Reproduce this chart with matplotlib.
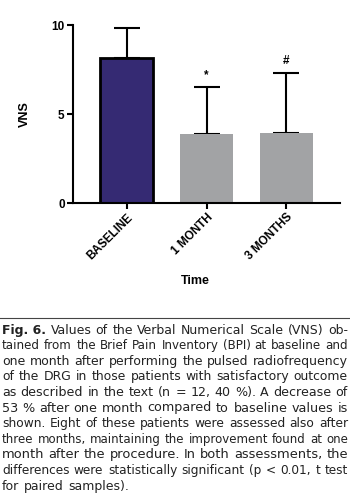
import matplotlib
matplotlib.use("Agg")
import matplotlib.pyplot as plt

categories = ["BASELINE", "1 MONTH", "3 MONTHS"]
means = [8.15, 3.9, 3.93]
sd_upper = [1.68, 2.6, 3.37]
marks = ["", "*", "#"]
bar_colors = ["#352a73", "#a2a3a5", "#a2a3a5"]
y_ticks = [0, 5, 10]

caption_lines = [
    "Values of the Verbal Numerical Scale (VNS) ob-",
    "tained from the Brief Pain Inventory (BPI) at baseline and",
    "one month after performing the pulsed radiofrequency",
    "of the DRG in those patients with satisfactory outcome",
    "as described in the text (n = 12, 40 %). A decrease of",
    "53 % after one month compared to baseline values is",
    "shown. Eight of these patients were assessed also after",
    "three months, maintaining the improvement found at one",
    "month after the procedure. In both assessments, the",
    "differences were statistically significant (p < 0.01, t test",
    "for paired samples).",
]

plt.rcParams['font.family'] = ['Liberation Sans', 'DejaVu Sans']
W, H = 350, 494
fig = plt.figure(figsize=(3.5, 4.94), dpi=100)
ax = fig.add_axes([73 / W, 1 - 203 / H, (340 - 73) / W, (203 - 25) / H])

x = list(range(len(categories)))
edges = ["black", "none", "none"]
lws = [2.0, 0, 0]
for xi, m, c, e, lw in zip(x, means, bar_colors, edges, lws):
    ax.bar(xi, m, width=0.66, color=c, edgecolor=e, linewidth=lw, zorder=2)
ax.errorbar(x, means, yerr=[[0] * 3, sd_upper], fmt="none", ecolor="black",
            elinewidth=1.5, capsize=9.5, capthick=1.5, zorder=1)
for xi, m, s, mk in zip(x, means, sd_upper, marks):
    if mk:
        ax.text(xi, m + s + 0.35, mk, ha="center", va="bottom",
                fontsize=8.5, fontweight="bold")

ax.set_xlim(-0.669, 2.669)
ax.set_ylim(0, 10)
ax.set_yticks(y_ticks)
ax.set_xticks(x)
ax.set_xticklabels(categories, rotation=45, ha="right", rotation_mode="anchor",
                   fontsize=8.5, fontweight="bold")
for lab in ax.get_yticklabels():
    lab.set_fontweight("bold")
    lab.set_fontsize(8.5)
ax.tick_params(axis="y", length=4, width=1.5, pad=2)
ax.tick_params(axis="x", length=4, width=1.5, pad=2)
for s in ["top", "right"]:
    ax.spines[s].set_visible(False)
for s in ["left", "bottom"]:
    ax.spines[s].set_linewidth(1.5)
ax.set_ylabel("VNS", fontsize=9, fontweight="bold")
ax.yaxis.set_label_coords(-(73 - 25) / (340 - 73), 0.5)
ax.set_xlabel("Time", fontsize=9, fontweight="bold")
ax.xaxis.set_label_coords((195 - 73) / (340 - 73), -(281 - 203) / (203 - 25))
ax.xaxis.label.set_va("center")
ax.yaxis.label.set_va("center")

# caption rule
fig.add_artist(plt.Line2D([0, 1], [1 - 318 / H, 1 - 318 / H], color="#444444",
                          linewidth=0.8, transform=fig.transFigure))

# justified caption with per-line size adjustment for even word gaps
renderer = fig.canvas.get_renderer()
fs0 = 9.0
cap_font = ['DejaVu Sans']
left_px, right_px = 2, 348
target_gap = 4.5
y0, dy = 333.5, 15.6
for i, line in enumerate(caption_lines):
    ypix = y0 + i * dy
    yf = 1 - ypix / H
    words = line.split(" ")
    parts = []
    if i == 0:
        t = fig.text(left_px / W, yf, "Fig. 6.", fontsize=fs0, fontweight="bold",
                     va="baseline", ha="left", color="#222222", family=cap_font)
        parts.append(t)
    for w in words:
        t = fig.text(0, yf, w, fontsize=fs0, va="baseline", ha="left",
                     color="#222222", family=cap_font)
        parts.append(t)
    widths = [p.get_window_extent(renderer).width for p in parts]
    nspace = len(parts) - 1
    last = i == len(caption_lines) - 1
    if not last:
        avail = right_px - left_px - nspace * target_gap
        scale = avail / sum(widths)
        scale = max(0.93, min(1.07, scale))
        fs = fs0 * scale
        for p in parts:
            p.set_fontsize(fs)
        widths = [p.get_window_extent(renderer).width for p in parts]
        gap = (right_px - left_px - sum(widths)) / nspace
    else:
        gap = target_gap
    xp = left_px
    for p, wd in zip(parts, widths):
        p.set_x(xp / W)
        xp += wd + gap

fig.savefig("out.png", dpi=100)
